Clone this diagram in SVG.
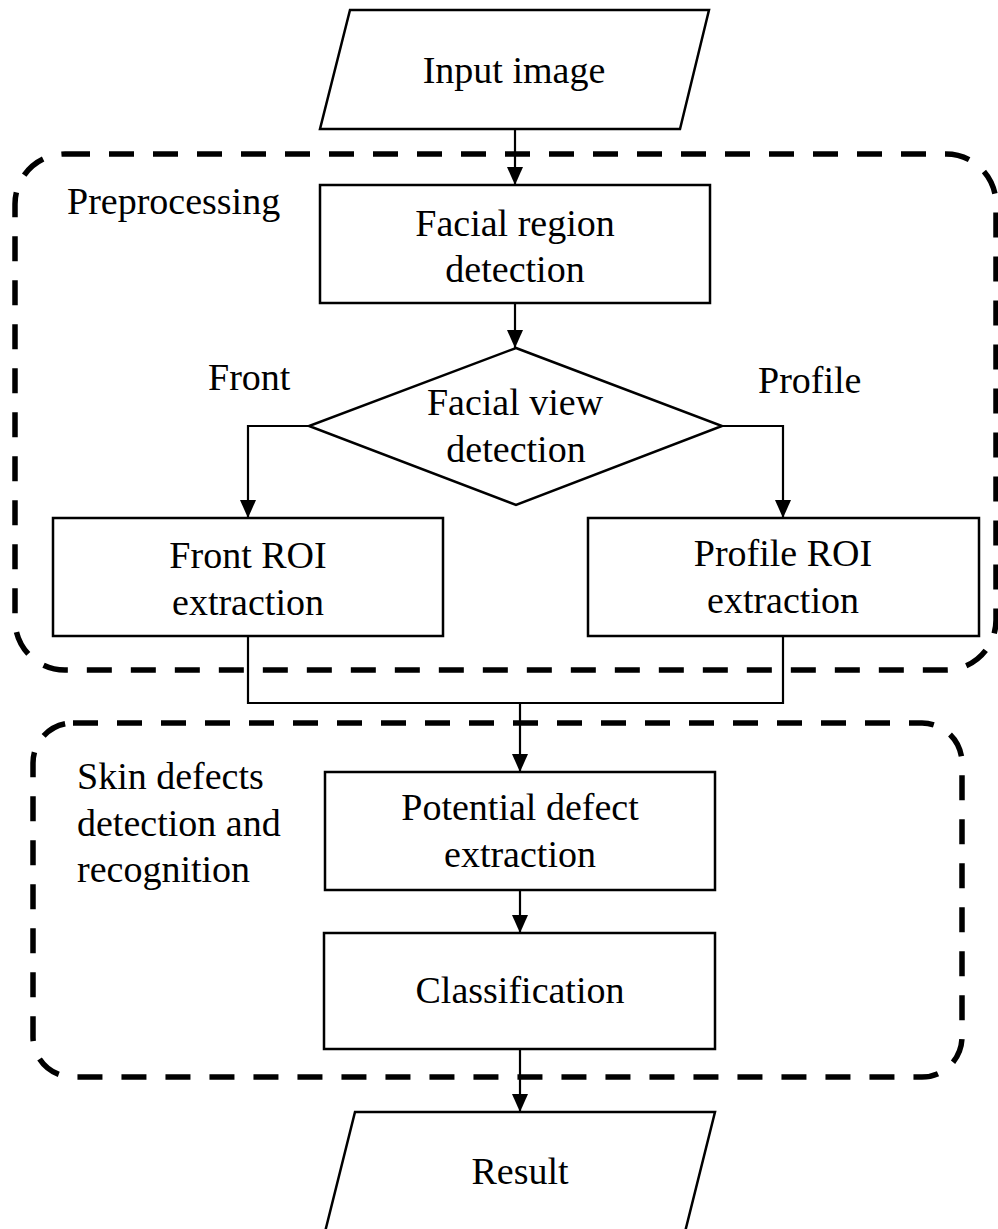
<svg xmlns="http://www.w3.org/2000/svg" width="998" height="1229" viewBox="0 0 998 1229">
<style>
.t{font-family:"Liberation Serif","Times New Roman",serif;font-size:38px;fill:#000}
.m{text-anchor:middle}
.box{fill:#fff;stroke:#000;stroke-width:2.5}
.grp{fill:none;stroke:#000;stroke-width:5.5;stroke-dasharray:25 19}
.con{fill:none;stroke:#000;stroke-width:2.2}
</style>
<defs>
<marker id="arr" markerWidth="18" markerHeight="16" refX="18" refY="8" orient="auto" markerUnits="userSpaceOnUse">
<path d="M0,0 L18,8 L0,16 Z" fill="#000"/>
</marker>
</defs>
<rect width="998" height="1229" fill="#fff"/>
<g id="group-preprocessing">
<rect class="grp" x="15" y="154" width="981" height="516" rx="50" ry="50"/>
<text class="t" x="67" y="214">Preprocessing</text>
</g>
<g id="group-skin">
<rect class="grp" x="33" y="723" width="929" height="354" rx="40" ry="40"/>
<text class="t" x="77" y="789">Skin defects</text>
<text class="t" x="77" y="836">detection and</text>
<text class="t" x="77" y="882">recognition</text>
</g>
<g id="connectors">
<line class="con" x1="515" y1="129" x2="515" y2="185" marker-end="url(#arr)"/>
<line class="con" x1="515" y1="303" x2="515" y2="348" marker-end="url(#arr)"/>
<polyline class="con" points="309,426 248,426 248,518" marker-end="url(#arr)"/>
<polyline class="con" points="722,426 783,426 783,518" marker-end="url(#arr)"/>
<polyline class="con" points="248,636 248,703 783,703 783,636"/>
<line class="con" x1="520" y1="703" x2="520" y2="772" marker-end="url(#arr)"/>
<line class="con" x1="520" y1="890" x2="520" y2="933" marker-end="url(#arr)"/>
<line class="con" x1="520" y1="1049" x2="520" y2="1112" marker-end="url(#arr)"/>
<text class="t" x="208" y="390">Front</text>
<text class="t" x="758" y="393">Profile</text>
</g>
<g id="node-input">
<polygon class="box" points="350,10 709,10 680,129 320,129"/>
<text class="t m" x="514" y="83">Input image</text>
</g>
<g id="node-facial-region">
<rect class="box" x="320" y="185" width="390" height="118"/>
<text class="t m" x="515" y="236">Facial region</text>
<text class="t m" x="515" y="282">detection</text>
</g>
<g id="node-facial-view">
<polygon class="box" points="516,348 722,426 516,505 309,426"/>
<text class="t m" x="515" y="415">Facial view</text>
<text class="t m" x="516" y="462">detection</text>
</g>
<g id="node-front-roi">
<rect class="box" x="53" y="518" width="390" height="118"/>
<text class="t m" x="248" y="568">Front ROI</text>
<text class="t m" x="248" y="615">extraction</text>
</g>
<g id="node-profile-roi">
<rect class="box" x="588" y="518" width="391" height="118"/>
<text class="t m" x="783" y="566">Profile ROI</text>
<text class="t m" x="783" y="613">extraction</text>
</g>
<g id="node-potential">
<rect class="box" x="325" y="772" width="390" height="118"/>
<text class="t m" x="520" y="820">Potential defect</text>
<text class="t m" x="520" y="867">extraction</text>
</g>
<g id="node-classification">
<rect class="box" x="324" y="933" width="391" height="116"/>
<text class="t m" x="520" y="1003">Classification</text>
</g>
<g id="node-result">
<polygon class="box" points="355,1112 715,1112 685,1232 325,1232"/>
<text class="t m" x="520" y="1184">Result</text>
</g>
</svg>
